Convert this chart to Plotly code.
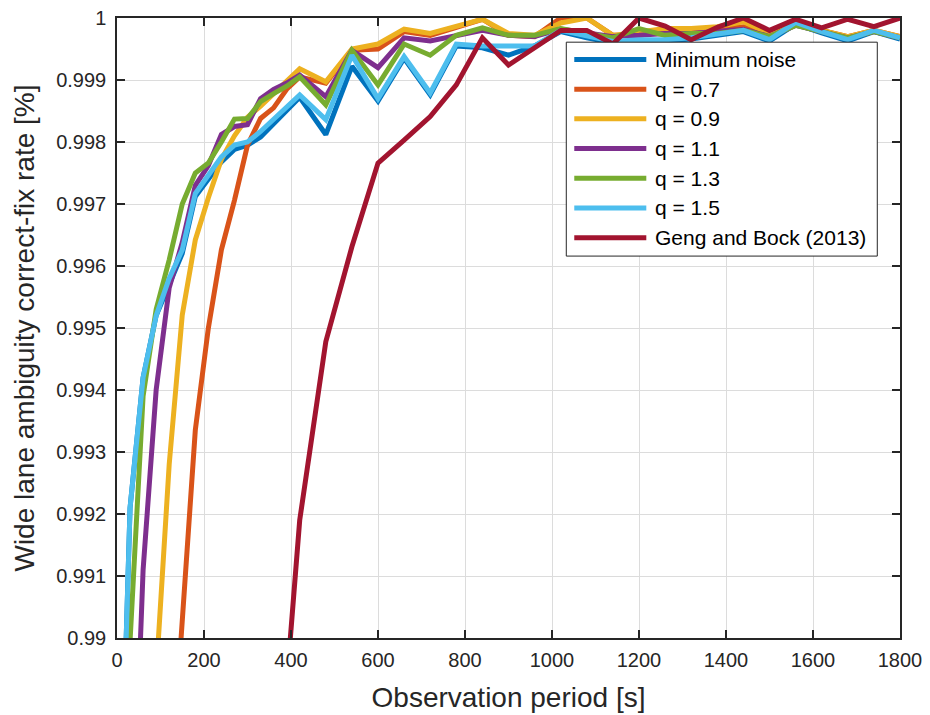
import plotly.graph_objects as go

# ---------------- data ----------------
obs_period = [0, 30, 60, 90, 120, 150, 180, 210, 240, 270, 300, 330, 360, 390, 420,
              480, 540, 600, 660, 720, 780, 840, 900, 960, 1020, 1080, 1140, 1200,
              1260, 1320, 1380, 1440, 1500, 1560, 1620, 1680, 1740, 1800]

min_noise = [0.9850, 0.9921, 0.9942, 0.9952, 0.9957, 0.9962, 0.99712, 0.99740, 0.99768, 0.99788,
             0.99795, 0.99808, 0.99830, 0.99850, 0.99872,
             0.99812, 0.99922, 0.99866, 0.99935, 0.99876, 0.99955, 0.99952, 0.99940, 0.99955,
             0.99978, 0.99968, 0.99960, 0.99963, 0.99963, 0.99966, 0.99973, 0.99978, 0.99963,
             0.99990, 0.99976, 0.99963, 0.99978, 0.99966]

q_07 = [0.9700, 0.9750, 0.9790, 0.9830, 0.9872, 0.9903, 0.99335, 0.99500, 0.99626, 0.99706,
        0.99795, 0.99838, 0.99855, 0.99885, 0.99905,
        0.99895, 0.99948, 0.99950, 0.99978, 0.99972, 0.99985, 0.99998, 0.99972, 0.99970,
        1.00000, 1.00000, 0.99972, 0.99972, 0.99978, 0.99978, 0.99982, 0.99986, 0.99972,
        0.99990, 0.99980, 0.99970, 0.99980, 0.99970]

q_09 = [0.9800, 0.9835, 0.9865, 0.9894, 0.9928, 0.99521, 0.99642, 0.99710, 0.99772, 0.99810,
        0.99840, 0.99858, 0.99878, 0.99898, 0.99918,
        0.99897, 0.99950, 0.99958, 0.99982, 0.99975, 0.99986, 0.99998, 0.99975, 0.99972,
        0.99992, 1.00000, 0.99972, 0.99978, 0.99983, 0.99983, 0.99986, 0.99994, 0.99975,
        0.99990, 0.99980, 0.99970, 0.99980, 0.99970]

q_11 = [0.9800, 0.9854, 0.9911, 0.9940, 0.99565, 0.99638, 0.99730, 0.99762, 0.99812, 0.99825,
        0.99828, 0.99870, 0.99885, 0.99895, 0.99908,
        0.99873, 0.99948, 0.99920, 0.99968, 0.99963, 0.99972, 0.99980, 0.99972, 0.99970,
        0.99982, 0.99975, 0.99970, 0.99972, 0.99975, 0.99975, 0.99978, 0.99982, 0.99970,
        0.99988, 0.99978, 0.99968, 0.99978, 0.99968]

q_13 = [0.9820, 0.98995, 0.9939, 0.9953, 0.9961, 0.99700, 0.99750, 0.99766, 0.99800, 0.99837,
        0.99838, 0.99865, 0.99878, 0.99890, 0.99905,
        0.99860, 0.99948, 0.99892, 0.99958, 0.99940, 0.99972, 0.99984, 0.99972, 0.99972,
        0.99983, 0.99975, 0.99968, 0.99983, 0.99972, 0.99975, 0.99975, 0.99980, 0.99970,
        0.99988, 0.99978, 0.99968, 0.99978, 0.99968]

q_15 = [0.9850, 0.9921, 0.9942, 0.9952, 0.9958, 0.99626, 0.99717, 0.99745, 0.99776, 0.99795,
        0.99800, 0.99817, 0.99837, 0.99856, 0.99876,
        0.99836, 0.99940, 0.99870, 0.99938, 0.99879, 0.99958, 0.99955, 0.99955, 0.99955,
        0.99980, 0.99970, 0.99962, 0.99965, 0.99965, 0.99968, 0.99975, 0.99980, 0.99965,
        0.99993, 0.99978, 0.99965, 0.99980, 0.99968]

geng_bock = [0.9500, 0.9550, 0.9600, 0.9640, 0.9680, 0.9710, 0.9740, 0.9770, 0.9790, 0.9810,
             0.9830, 0.9850, 0.9870, 0.98925, 0.9919,
             0.99478, 0.99631, 0.99766, 0.99803, 0.99841, 0.99892, 0.99968, 0.99924, 0.99952,
             0.99980, 0.99980, 0.99958, 1.00000, 0.99987, 0.99965, 0.99985, 1.00000, 0.99980,
             0.99998, 0.99984, 0.99998, 0.99986, 1.00000]

series_names = ["Minimum noise", "q = 0.7", "q = 0.9", "q = 1.1", "q = 1.3", "q = 1.5",
                "Geng and Bock (2013)"]
series_values = [min_noise, q_07, q_09, q_11, q_13, q_15, geng_bock]
series_colors = ["#0072BD", "#D95319", "#EDB120", "#7E2F8E", "#77AC30", "#4DBEEE", "#A2142F"]

x_ticks = [0, 200, 400, 600, 800, 1000, 1200, 1400, 1600, 1800]
y_ticks = [0.99, 0.991, 0.992, 0.993, 0.994, 0.995, 0.996, 0.997, 0.998, 0.999, 1.0]
y_tick_text = ["0.99", "0.991", "0.992", "0.993", "0.994", "0.995", "0.996", "0.997",
               "0.998", "0.999", "1"]

FONT = "Liberation Sans, Arial, Helvetica, sans-serif"
AX = "#262626"

fig = go.Figure()
for name, vals, col in zip(series_names, series_values, series_colors):
    fig.add_trace(go.Scatter(x=obs_period, y=vals, mode="lines", name=name,
                             line=dict(color=col, width=5), showlegend=False))

# manual legend (MATLAB style: long line samples)
leg_x0, leg_x1 = 0.5738, 0.971
leg_y0, leg_y1 = 0.616, 0.961
fig.add_shape(type="rect", xref="paper", yref="paper", x0=leg_x0, x1=leg_x1,
              y0=leg_y0, y1=leg_y1, line=dict(color=AX, width=1), fillcolor="white",
              layer="above")
row_top = 0.9331
row_step = 0.0479
for i, (name, col) in enumerate(zip(series_names, series_colors)):
    yy = row_top - i * row_step
    fig.add_shape(type="line", xref="paper", yref="paper", x0=0.584, x1=0.676,
                  y0=yy, y1=yy, line=dict(color=col, width=5), layer="above")
    fig.add_annotation(xref="paper", yref="paper", x=0.684, y=yy, text=name,
                       showarrow=False, xanchor="left", yanchor="middle",
                       font=dict(family=FONT, size=21, color="#000000"))

fig.update_layout(
    width=930, height=715,
    margin=dict(l=117, r=30, t=18, b=77, autoexpand=False),
    paper_bgcolor="white", plot_bgcolor="white",
    font=dict(family=FONT, color=AX, size=20),
)
fig.update_xaxes(range=[0, 1800], tickvals=x_ticks, ticks="inside", ticklen=8,
                 tickcolor=AX, tickwidth=1.5, showline=True, linecolor=AX, linewidth=1.5,
                 mirror="ticks", showgrid=True, gridcolor="#dcdcdc", gridwidth=1,
                 zeroline=False, tickfont=dict(size=20, color=AX), ticklabelstandoff=3,
                 automargin=False,
                 title=dict(text="Observation period [s]", font=dict(size=28, color=AX),
                            standoff=18))
fig.update_yaxes(range=[0.99, 1.0], tickvals=y_ticks, ticktext=y_tick_text,
                 ticks="inside", ticklen=8, tickcolor=AX, tickwidth=1.5,
                 showline=True, linecolor=AX, linewidth=1.5, mirror="ticks",
                 showgrid=True, gridcolor="#dcdcdc", gridwidth=1, zeroline=False,
                 tickfont=dict(size=20, color=AX), ticklabelstandoff=5, automargin=False,
                 title=dict(text="Wide lane ambiguity correct-fix rate [%]",
                            font=dict(size=28, color=AX), standoff=13))

fig.write_html("out.html")
